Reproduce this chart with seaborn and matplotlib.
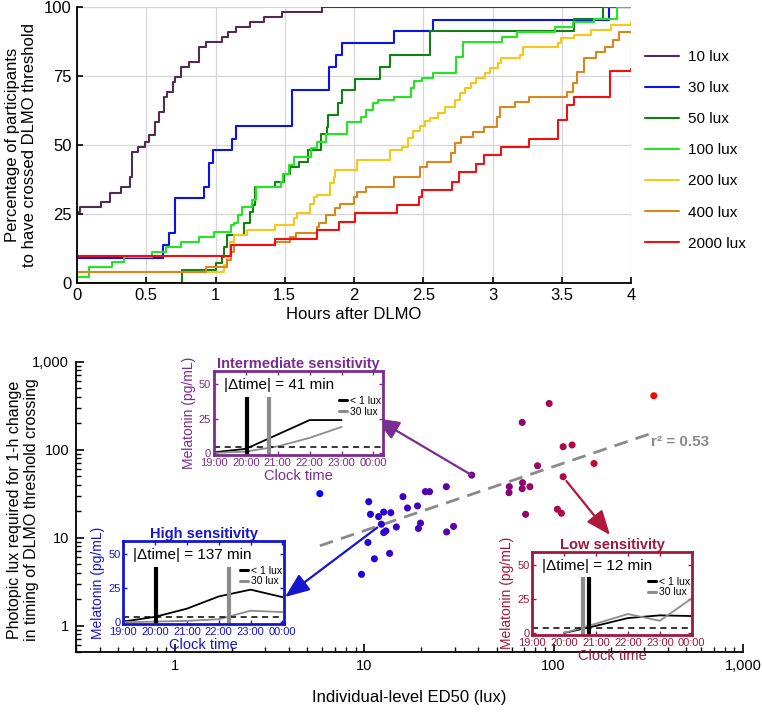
import numpy as np
import pandas as pd
import matplotlib
matplotlib.use("Agg")
import matplotlib.pyplot as plt
from matplotlib.lines import Line2D
from matplotlib.ticker import FuncFormatter, LogLocator, NullFormatter, FixedLocator
import seaborn as sns

# ---------------- data: top panel (cumulative % crossing) ----------------
series_labels = ["10 lux", "30 lux", "50 lux", "100 lux", "200 lux", "400 lux", "2000 lux"]
series_colors = ["#4f2d4f", "#0a14e6", "#138013", "#22e622", "#f7c816", "#d9861c", "#ee1111"]

h_10 = [0, 0.02, 0.17, 0.24, 0.32, 0.38, 0.40, 0.44, 0.49, 0.52, 0.56, 0.59, 0.63, 0.65, 0.69, 0.71,
        0.75, 0.81, 0.88, 0.93, 1.05, 1.09, 1.15, 1.25, 1.35, 1.48, 1.77, 4.0]
p_10 = [25.5, 27.5, 29.3, 32.6, 34.8, 38.4, 47.5, 49.3, 51.0, 53.5, 58.3, 62.0, 67.4, 69.2, 72.8, 74.6,
        78.3, 80.0, 85.5, 87.3, 89.0, 91.0, 92.8, 94.6, 96.4, 98.2, 100, 100]

h_30 = [0, 0.62, 0.665, 0.71, 0.915, 0.955, 0.98, 1.12, 1.15, 1.555, 1.82, 1.87, 1.91, 2.29, 2.57, 3.84, 4.0]
p_30 = [8.8, 13.6, 17.9, 30.6, 34.8, 43.5, 48.0, 52.3, 56.8, 69.8, 78.3, 82.5, 87.0, 91.3, 95.4, 100, 100]

h_50 = [0, 0.757, 1.007, 1.048, 1.06, 1.084, 1.209, 1.252, 1.272, 1.288, 1.428, 1.493, 1.541, 1.601,
        1.669, 1.765, 1.806, 1.813, 1.886, 1.915, 2.01, 2.186, 2.263, 2.551, 3.585, 3.797, 4.0]
p_50 = [0, 4.6, 7.0, 9.4, 13.0, 17.3, 21.5, 25.7, 28.1, 34.8, 36.6, 39.6, 42.0, 43.8,
        48.0, 54.1, 56.5, 60.7, 65.0, 69.8, 73.8, 78.3, 82.7, 91.3, 95.5, 100, 100]

h_100 = [0, 0.09, 0.25, 0.34, 0.54, 0.64, 0.75, 0.88, 0.99, 1.11, 1.13, 1.16, 1.19, 1.26, 1.29, 1.47,
         1.49, 1.53, 1.57, 1.69, 1.73, 1.80, 1.95, 2.05, 2.09, 2.14, 2.17, 2.29, 2.41, 2.43, 2.49,
         2.57, 2.74, 2.79, 3.07, 3.18, 3.45, 3.58, 3.73, 3.90, 4.0]
p_100 = [2.2, 5.8, 7.6, 9.4, 11.2, 13.0, 14.9, 16.7, 18.5, 20.9, 21.5, 24.5, 27.3, 30.0, 34.8, 36.6,
         39.6, 42.6, 45.6, 48.7, 51.1, 54.1, 58.3, 60.1, 62.6, 65.0, 66.3, 67.5, 70.6, 73.0, 74.3,
         76.2, 81.8, 87.3, 89.1, 91.0, 92.8, 94.6, 95.8, 100, 100]

h_200 = [0, 1.06, 1.084, 1.108, 1.132, 1.228, 1.432, 1.565, 1.589, 1.685, 1.709, 1.733, 1.83, 1.853,
         1.865, 2.022, 2.26, 2.344, 2.392, 2.428, 2.476, 2.512, 2.548, 2.608, 2.656, 2.728, 2.764,
         2.8, 2.848, 2.884, 2.944, 2.98, 3.04, 3.064, 3.2, 3.22, 3.472, 3.496, 3.592, 3.712, 3.857, 4.0]
p_200 = [4.0, 6.5, 9.4, 14.8, 17.3, 19.1, 20.9, 23.3, 25.1, 28.7, 31.2, 31.8, 36.0, 38.4,
         40.8, 44.6, 48.2, 49.4, 52.5, 54.9, 56.7, 58.5, 59.7, 61.5, 63.9, 66.3, 68.7,
         70.5, 72.3, 74.2, 76.0, 77.8, 79.6, 81.4, 82.6, 85.6, 86.8, 88.6, 89.8, 91.6, 93.4, 94.5]

h_400 = [0, 0.93, 1.08, 1.11, 1.13, 1.43, 1.54, 1.58, 1.73, 1.75, 1.80, 1.865, 1.90, 2.00, 2.02, 2.09,
         2.29, 2.48, 2.53, 2.70, 2.73, 2.77, 2.86, 2.94, 3.03, 3.055, 3.16, 3.26, 3.54, 3.58, 3.61,
         3.66, 3.75, 3.81, 3.87, 3.91, 4.0]
p_400 = [4.0, 5.8, 8.2, 11.2, 13.7, 14.8, 16.7, 17.9, 20.3, 21.5, 24.5, 27.0, 28.7, 31.2, 33.0, 34.8,
         38.4, 42.0, 43.8, 46.9, 50.5, 52.9, 54.8, 56.6, 60.1, 63.8, 65.6, 67.4, 69.0, 72.3, 76.5,
         81.4, 83.8, 85.6, 88.0, 91.0, 91.0]

h_2000 = [0, 1.11, 1.43, 1.73, 1.89, 2.01, 2.31, 2.47, 2.49, 2.71, 2.76, 2.88, 2.94, 3.06, 3.26, 3.47,
          3.54, 3.59, 3.85, 4.0]
p_2000 = [9.7, 13.6, 16.0, 19.1, 22.1, 25.1, 28.1, 31.2, 33.6, 36.6, 40.2, 43.2, 46.3, 49.3, 52.3, 58.9,
          64.5, 67.5, 76.9, 77.5]

top_hours = [h_10, h_30, h_50, h_100, h_200, h_400, h_2000]
top_pcts = [p_10, p_30, p_50, p_100, p_200, p_400, p_2000]

# ---------------- data: bottom panel (scatter) ----------------
ed50 = [5.82, 10.55, 10.77, 11.9, 12.65, 13.8, 12.3, 12.65, 13.0, 14.76, 16.0, 16.9, 19.1, 21.0, 22.1,
        27.1, 19.8, 19.3, 27.2, 29.6, 10.45, 11.3, 13.6, 9.66, 36.9, 58.3, 58.1, 68.5, 68.2, 74.9,
        71.1, 82.2, 68.2, 94.7, 112.2, 125.1, 112.2, 163.4, 104.7, 109.9, 338]
lux_1h = [31.6, 25.6, 18.4, 17.3, 19.5, 19.2, 14.2, 11.4, 11.9, 13.2, 29.2, 21.7, 22.9, 33.3, 33.3,
          37.9, 14.6, 12.7, 11.6, 13.4, 8.80, 5.74, 6.61, 3.82, 51.3, 37.9, 32.4, 42.1, 36.0, 37.9,
          18.4, 65.6, 204, 335, 108, 113, 49.2, 69.6, 21.0, 18.9, 410]
r2_text = "r² = 0.53"

# ---------------- data: insets (melatonin profiles) ----------------
clock_ticks = [19, 20, 21, 22, 23, 24]
clock_labels = ["19:00", "20:00", "21:00", "22:00", "23:00", "00:00"]
threshold = 4

mid_t_dim = [19, 20, 21, 22, 23]
mid_v_dim = [0.5, 3.0, 13.5, 24.0, 24.0]
mid_t_30 = [19, 20, 21, 22, 23]
mid_v_30 = [0.0, 1.0, 4.8, 11.0, 19.0]
mid_cross = (20.05, 20.73)

high_t_dim = [19, 20, 21, 22, 23, 24]
high_v_dim = [0.5, 4.0, 10.0, 19.0, 24.0, 18.5]
high_t_30 = [19, 20, 21, 22, 23, 24]
high_v_30 = [0.0, 0.5, 1.0, 2.2, 8.5, 7.5]
high_cross = (20.03, 22.32)

low_t_dim = [20, 21, 22, 23, 24]
low_v_dim = [0.0, 5.3, 11.0, 13.0, 12.5]
low_t_30 = [20, 21, 22, 23, 24]
low_v_30 = [0.0, 6.9, 14.0, 9.0, 25.5]
low_cross = (20.78, 20.58)

# ---------------- style ----------------
sns.set_theme(style="ticks")
plt.rcParams["font.family"] = ["Liberation Sans", "DejaVu Sans"]
plt.rcParams["xtick.direction"] = "in"
plt.rcParams["ytick.direction"] = "in"
plt.rcParams["axes.edgecolor"] = "black"
plt.rcParams["axes.linewidth"] = 1.3
plt.rcParams["xtick.color"] = "black"
plt.rcParams["ytick.color"] = "black"
plt.rcParams["text.color"] = "black"
plt.rcParams["axes.labelcolor"] = "black"

W, H = 762, 715
fig = plt.figure(figsize=(W / 100, H / 100), dpi=100)


def rect(l, t, r, b):
    return [l / W, 1 - b / H, (r - l) / W, (b - t) / H]


# ---------------- top panel ----------------
ax1 = fig.add_axes(rect(77, 7, 631, 282.7))
rows = []
for lab, hs, ps in zip(series_labels, top_hours, top_pcts):
    for h, p in zip(hs, ps):
        rows.append((lab, h, p))
df_top = pd.DataFrame(rows, columns=["condition", "hours", "pct"])
sns.lineplot(data=df_top, x="hours", y="pct", hue="condition", hue_order=series_labels,
             palette=dict(zip(series_labels, series_colors)), estimator=None, sort=False,
             drawstyle="steps-post", lw=1.5, ax=ax1)
handles, labels = ax1.get_legend_handles_labels()
ax1.get_legend().remove()
ax1.set_xlim(0, 4)
ax1.set_ylim(0, 100)
ax1.set_xticks(np.arange(0, 4.01, 0.5))
ax1.set_xticklabels(["0", "0.5", "1", "1.5", "2", "2.5", "3", "3.5", "4"])
ax1.set_yticks([0, 25, 50, 75, 100])
ax1.grid(True, color="#d6d6d6", lw=0.9)
ax1.set_axisbelow(True)
for s in ["top", "right"]:
    ax1.spines[s].set_visible(False)
ax1.tick_params(labelsize=12, length=4, width=1.2, pad=4)
ax1.set_xlabel("Hours after DLMO", fontsize=12, labelpad=3)
ax1.set_ylabel("Percentage of participants\nto have crossed DLMO threshold", fontsize=12)
ax1.yaxis.set_label_coords((37 - 77) / 554, 0.5)

fig.legend(handles, labels, loc="upper left", bbox_to_anchor=(645 / W, 1 - 50 / H),
           frameon=False, fontsize=11, handlelength=2.2, handletextpad=0.6, labelspacing=1.12,
           borderpad=0, borderaxespad=0)

# ---------------- bottom panel ----------------
ax2 = fig.add_axes(rect(76, 361.7, 743, 652))
cmap = sns.blend_palette(["#0000ff", "#ee0a0a"], as_cmap=True)
lx = np.log10(ed50)
sns.scatterplot(x=ed50, y=lux_1h, hue=lx, palette=cmap, hue_norm=(lx.min(), lx.max()),
                s=26, linewidth=0, legend=False, ax=ax2, zorder=3)
ax2.set_xscale("log")
ax2.set_yscale("log")
ax2.set_xlim(0.3, 1000)
ax2.set_ylim(0.5, 1000)
fmt = FuncFormatter(lambda v, p: f"{v:,.0f}")
for axis in (ax2.xaxis, ax2.yaxis):
    axis.set_major_locator(FixedLocator([1, 10, 100, 1000]))
    axis.set_major_formatter(fmt)
    axis.set_minor_locator(LogLocator(base=10, subs=np.arange(2, 10)))
    axis.set_minor_formatter(NullFormatter())
for s in ["top", "right"]:
    ax2.spines[s].set_visible(False)
ax2.tick_params(which="major", labelsize=10.5, length=6, width=1.2, pad=5)
ax2.tick_params(which="minor", length=3.5, width=1.0)
ax2.set_xlabel("Individual-level ED50 (lux)", fontsize=12, labelpad=12)
ax2.set_ylabel("Photopic lux required for 1-h change\nin timing of DLMO threshold crossing",
               fontsize=11.5, linespacing=1.15)
ax2.yaxis.set_label_coords((39 - 76) / 667, 0.49)

ly = np.log10(lux_1h)
slope, intercept = np.polyfit(lx, ly, 1)
xs = np.array([min(ed50), max(ed50)])
ax2.plot(xs, 10 ** (intercept + slope * np.log10(xs)), color="#8a8a8a", lw=2.0,
         ls=(0, (5, 3)), zorder=2)
ax2.text(328, 122, r2_text, color="#8a8a8a", fontsize=11, fontweight="bold",
         ha="left", va="center")

# arrows
arrow_specs = [
    ((36.9, 51.3), (375, 418), "#7b2d8e"),
    ((11.7, 13.0), (285, 597), "#1515d0"),
    ((116.8, 43.9), (610, 535), "#b0183c"),
]
for (dx, dy), (px, py), col in arrow_specs:
    ax2.annotate("", xy=(px / W, 1 - py / H), xycoords="figure fraction",
                 xytext=(dx, dy), textcoords="data", annotation_clip=False,
                 arrowprops=dict(arrowstyle="-|>,head_length=1.0,head_width=0.4",
                                 color=col, lw=1.6, shrinkA=0, shrinkB=0,
                                 mutation_scale=15))


# ---------------- insets ----------------
def draw_inset(box, color, title, dtext, t_dim, v_dim, t_30, v_30, cross, xmax):
    ia = fig.add_axes(rect(*box))
    ia.set_facecolor("white")
    ia.set_zorder(5)
    sns.lineplot(x=t_dim, y=v_dim, ax=ia, color="black", lw=1.3, estimator=None)
    sns.lineplot(x=t_30, y=v_30, ax=ia, color="#8c8c8c", lw=1.3, estimator=None)
    ia.axhline(threshold, color="black", ls=(0, (4, 3)), lw=1.1)
    ia.vlines([cross[0]], -1.5, 41, color="black", lw=3)
    ia.vlines([cross[1]], -1.5, 41, color="#8c8c8c", lw=3)
    ia.set_xlim(19, xmax)
    ia.set_ylim(-1.5, 60)
    ia.set_xticks(clock_ticks)
    ia.set_xticklabels(clock_labels)
    ia.set_yticks([0, 25, 50])
    ia.tick_params(direction="in", top=True, right=True, length=3, width=1,
                   colors=color, labelsize=8, pad=2)
    for s in ia.spines.values():
        s.set_color(color)
        s.set_linewidth(2)
    ia.set_title(title, color=color, fontsize=10.5, fontweight="bold", pad=2)
    ia.set_xlabel("Clock time", color=color, fontsize=10.5, labelpad=1)
    ia.set_ylabel("Melatonin (pg/mL)", color=color, fontsize=10, labelpad=2)
    ia.text(0.06, 0.83, dtext, transform=ia.transAxes, fontsize=11, ha="left", va="center",
            color="black")
    hl = [Line2D([], [], color="black", lw=2.2), Line2D([], [], color="#8c8c8c", lw=2.2)]
    ia.legend(hl, ["< 1 lux", "30 lux"], loc="upper right", bbox_to_anchor=(0.99, 0.7),
              frameon=False, fontsize=7.5, handlelength=0.8, handletextpad=0.3,
              labelspacing=0.05, borderpad=0, borderaxespad=0)
    return ia


draw_inset((214, 370.7, 383, 455), "#7b2d8e", "Intermediate sensitivity", "|Δtime| = 41 min",
           mid_t_dim, mid_v_dim, mid_t_30, mid_v_30, mid_cross, 24.3)
draw_inset((123.3, 540.7, 284, 624.3), "#1515d0", "High sensitivity", "|Δtime| = 137 min",
           high_t_dim, high_v_dim, high_t_30, high_v_30, high_cross, 24.05)
draw_inset((532.3, 551.7, 691.7, 635), "#a0183c", "Low sensitivity", "|Δtime| = 12 min",
           low_t_dim, low_v_dim, low_t_30, low_v_30, low_cross, 24.0)

fig.savefig("out.png", dpi=100)
